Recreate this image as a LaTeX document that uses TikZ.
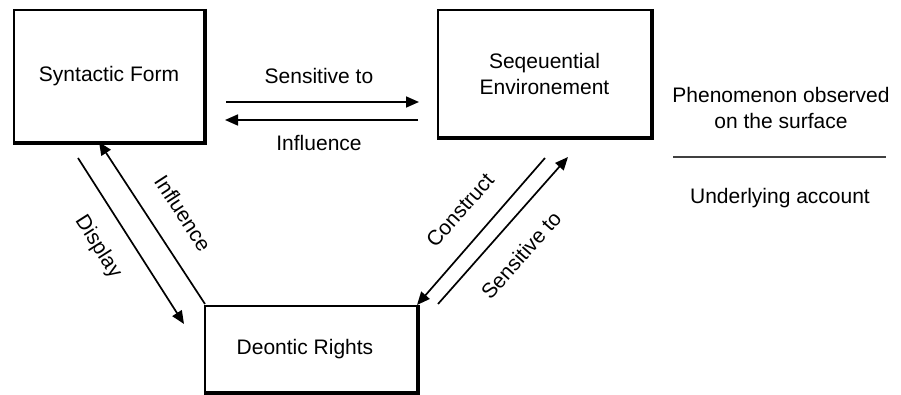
\documentclass[tikz,border=0pt]{standalone}
\usepackage{fontspec}
\setmainfont{Liberation Sans}
\usetikzlibrary{arrows.meta}
\begin{document}
\begin{tikzpicture}[x=0.5pt,y=-0.5pt,
  box/.style={draw=black,line width=1pt,fill=white,inner sep=0pt,align=center,font=\fontsize{10.5pt}{13pt}\selectfont},
  lbl/.style={inner sep=0pt,align=center,font=\fontsize{10.5pt}{13pt}\selectfont},
  conn/.style={line width=0.85pt,-{Triangle[length=6.5pt,width=5.5pt]}},
  plain/.style={line width=0.8pt}]
\useasboundingbox (0,0) rectangle (901,395);
% boxes
\node[box,minimum width=95pt,minimum height=66pt] (sf) at (109,76) {\raisebox{-1pt}{Syntactic Form}};
\node[box,minimum width=106.5pt,minimum height=63.5pt] (se) at (544.5,73.5) {Seqeuential\\Environement};
\node[box,minimum width=106pt,minimum height=43pt] (dr) at (311,349) {Deontic Rights\hspace{6pt}};
\foreach \b in {sf,se,dr}{
  \draw[line width=1.6pt] ([xshift=0.4pt]\b.north east) -- ([xshift=0.4pt,yshift=-0.4pt]\b.south east) -- ([yshift=-0.4pt]\b.south west);
}
% horizontal connectors
\coordinate (h1s) at (226,102); \coordinate (h1e) at (419,102);
\coordinate (h2s) at (418,120); \coordinate (h2e) at (225,120);
\draw[conn] (h1s) -- (h1e);
\draw[conn] (h2s) -- (h2e);
\node[lbl] (l1) at (319,76) {Sensitive to};
\node[lbl] (l2) at (319,143) {Influence};
% left connectors
\coordinate (d1s) at (78,158); \coordinate (d1e) at (184,324);
\draw[conn] (d1s) -- (d1e);
\coordinate (i1s) at (205,304); \coordinate (i1e) at (99,142);
\draw[conn] (i1s) -- (i1e);
\node[lbl,rotate=-57.5] (l3) at (98,247) {Display};
\node[lbl,rotate=-57] (l4) at (183,213) {Influence};
% right connectors
\coordinate (c1s) at (545,158); \coordinate (c1e) at (417,305);
\draw[conn] (c1s) -- (c1e);
\coordinate (s1s) at (438,304); \coordinate (s1e) at (568,157);
\draw[conn] (s1s) -- (s1e);
\node[lbl,rotate=48.5] (l5) at (460,210) {Construct};
\node[lbl,rotate=48.5] (l6) at (521,255) {Sensitive to};
% legend
\node[lbl] (ph) at (781,108) {Phenomenon observed\\on the surface};
\coordinate (ls) at (673,157); \coordinate (le) at (886,157);
\draw[line width=1pt,black!75] (ls) -- (le);
\node[lbl] (ua) at (780,198) {Underlying account};
\end{tikzpicture}
\end{document}
